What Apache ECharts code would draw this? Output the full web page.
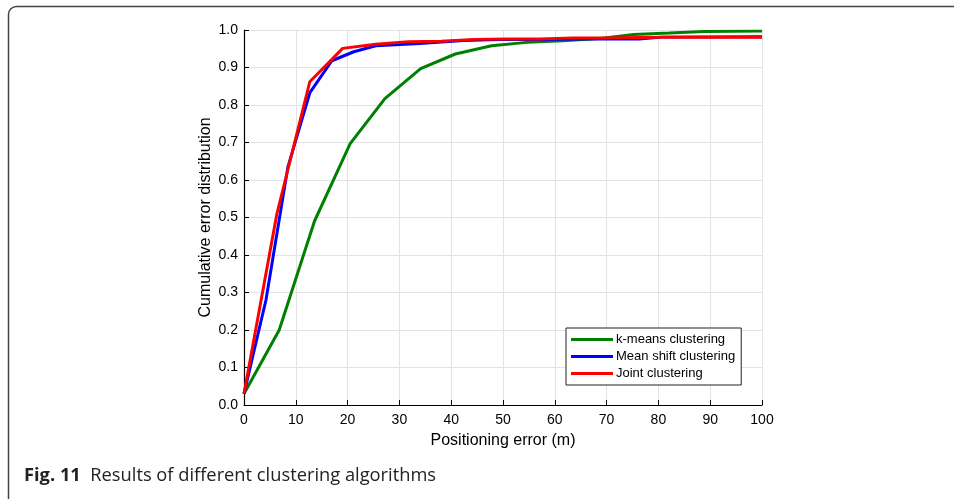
<!DOCTYPE html>
<html>
<head>
<meta charset="utf-8">
<script src="https://cdn.jsdelivr.net/npm/echarts@6/dist/echarts.min.js"></script>
<style>
  html, body { margin: 0; padding: 0; background: #fff; }
  #chart { width: 954px; height: 499px; }
</style>
</head>
<body>
<div id="chart"></div>
<script>
// Positioning error (m) vs cumulative error distribution
const kmeansX = [0, 6.8, 13.6, 20.5, 27.2, 34.1, 40.8, 47.8, 54.6, 61.5, 68.4, 75.2, 82.1, 88.9, 100];
const kmeansY = [0.03, 0.2, 0.49, 0.697, 0.817, 0.897, 0.936, 0.958, 0.967, 0.971, 0.977, 0.988, 0.992, 0.996, 0.997];

const meanShiftX = [0, 4.24, 8.48, 12.72, 16.96, 21.2, 25.44, 33.9, 42.4, 50.9, 59.4, 67.8, 76.3, 80.6, 100];
const meanShiftY = [0.03, 0.28, 0.635, 0.833, 0.918, 0.942, 0.958, 0.964, 0.972, 0.975, 0.975, 0.976, 0.976, 0.981, 0.982];

const jointX = [0, 6.35, 12.7, 19.05, 25.4, 31.75, 38.1, 44.45, 50.8, 57.15, 63.5, 69.85, 76.2, 82.55, 100];
const jointY = [0.03, 0.51, 0.862, 0.951, 0.962, 0.969, 0.97, 0.975, 0.976, 0.976, 0.979, 0.979, 0.98, 0.981, 0.981];

const seriesNames = ['k-means clustering', 'Mean shift clustering', 'Joint clustering'];
const seriesColors = ['#008000', '#0000ff', '#ff0000'];

const xTicks = [0, 10, 20, 30, 40, 50, 60, 70, 80, 90, 100];
const yTicks = [0, 0.1, 0.2, 0.3, 0.4, 0.5, 0.6, 0.7, 0.8, 0.9, 1.0];

const pairs = (xs, ys) => xs.map((x, i) => [x, ys[i]]);
const seriesData = [pairs(kmeansX, kmeansY), pairs(meanShiftX, meanShiftY), pairs(jointX, jointY)];

const chart = echarts.init(document.getElementById('chart'), null, { renderer: 'canvas' });
const axisFont = 'Liberation Sans, Arial, Helvetica, sans-serif';

chart.setOption({
  animation: false,
  backgroundColor: '#fff',
  grid: { left: 244, right: 192, top: 30, bottom: 94, containLabel: false },
  xAxis: {
    type: 'value',
    min: xTicks[0],
    max: xTicks[xTicks.length - 1],
    interval: xTicks[1] - xTicks[0],
    name: 'Positioning error (m)',
    nameLocation: 'middle',
    nameGap: 28,
    nameMoveOverlap: false,
    nameTextStyle: { fontFamily: axisFont, fontSize: 16, color: '#000' },
    axisLine: { show: true, onZero: false, lineStyle: { color: '#000', width: 1.2 } },
    axisTick: { show: true, inside: true, length: 5, lineStyle: { color: '#000' } },
    axisLabel: { fontFamily: axisFont, fontSize: 14, color: '#000', margin: 8 },
    splitLine: { show: true, lineStyle: { color: '#e3e3e3', width: 1 } }
  },
  yAxis: {
    type: 'value',
    min: yTicks[0],
    max: yTicks[yTicks.length - 1],
    interval: 0.1,
    name: 'Cumulative error distribution',
    nameLocation: 'middle',
    nameGap: 30,
    nameMoveOverlap: false,
    nameTextStyle: { fontFamily: axisFont, fontSize: 16, color: '#000' },
    axisLine: { show: true, onZero: false, lineStyle: { color: '#000', width: 1.2 } },
    axisTick: { show: true, inside: true, length: 5, lineStyle: { color: '#000' } },
    axisLabel: { fontFamily: axisFont, fontSize: 14, color: '#000', margin: 6,
      formatter: v => v.toFixed(1) },
    splitLine: { show: true, lineStyle: { color: '#e3e3e3', width: 1 } }
  },
  legend: {
    orient: 'vertical',
    left: 566,
    top: 328,
    data: seriesNames,
    icon: 'rect',
    itemWidth: 42,
    itemHeight: 3,
    itemGap: 4,
    padding: [5, 6, 5, 5],
    backgroundColor: '#fff',
    borderColor: '#222',
    borderWidth: 1,
    borderRadius: 0,
    textStyle: { fontFamily: axisFont, fontSize: 13, color: '#000', padding: [0, 0, 0, -2] }
  },
  series: seriesNames.map((name, i) => ({
    name,
    type: 'line',
    data: seriesData[i],
    showSymbol: false,
    symbol: 'none',
    color: seriesColors[i],
    lineStyle: { color: seriesColors[i], width: 3 },
    z: 2 + i
  })),
  graphic: [
    {
      type: 'rect',
      shape: { x: 8.5, y: 6.5, width: 1100, height: 700, r: 8 },
      style: { fill: 'none', stroke: '#444', lineWidth: 1.5 },
      silent: true
    },
    {
      type: 'text',
      left: 24,
      top: 467,
      style: {
        text: '{b|Fig. 11}  Results of different clustering algorithms',
        font: '18.3px "Open Sans", "Noto Sans", sans-serif',
        fill: '#222',
        rich: {
          b: { font: 'bold 18.3px "Open Sans", "Noto Sans", sans-serif', fill: '#222' }
        }
      }
    }
  ]
});
</script>
</body>
</html>
